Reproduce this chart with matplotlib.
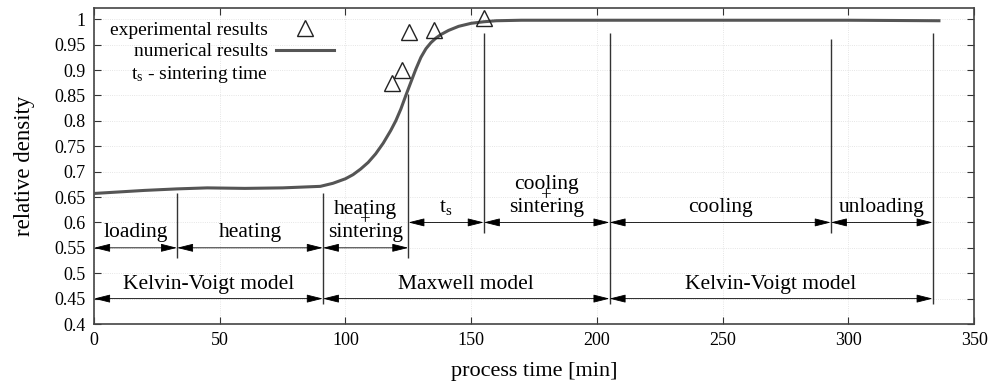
import numpy as np
import matplotlib
matplotlib.use("Agg")
import matplotlib.pyplot as plt
from matplotlib.lines import Line2D

plt.rcParams['font.family'] = ['Liberation Serif', 'DejaVu Serif']
plt.rcParams['mathtext.fontset'] = 'custom'
plt.rcParams['mathtext.rm'] = 'Liberation Serif'
plt.rcParams['mathtext.it'] = 'Liberation Serif:italic'

# numerical results
time_num = [0, 10, 20, 33, 45, 60, 75, 90, 95, 100, 103, 106, 109, 112, 115, 118,
            120, 122, 124, 126, 128, 130, 132, 134, 136, 138, 141, 145, 150, 155,
            160, 170, 200, 250, 300, 336]
dens_num = [0.657, 0.660, 0.663, 0.666, 0.668, 0.667, 0.668, 0.671, 0.677, 0.686,
            0.694, 0.705, 0.718, 0.735, 0.756, 0.781, 0.800, 0.823, 0.850, 0.876,
            0.902, 0.925, 0.942, 0.954, 0.963, 0.970, 0.978, 0.986, 0.992, 0.995,
            0.997, 0.998, 0.998, 0.998, 0.998, 0.997]

# experimental results
time_exp = [118.6, 122.4, 125.4, 135.0, 155.0]
dens_exp = [0.874, 0.900, 0.975, 0.978, 1.003]

# phase boundaries: time, lower and upper end of the marker line
bound_t = [33, 91, 125, 155, 205, 293, 333.5]
bound_lo = [0.53, 0.44, 0.53, 0.58, 0.44, 0.58, 0.44]
bound_hi = [0.658, 0.658, 0.853, 0.973, 0.973, 0.962, 0.973]

# stages (rows of double arrows)
stage_low = [(0, 33, 'loading'), (33, 91, 'heating'), (91, 125, 'heating\n+\nsintering')]
stage_high = [(125, 155, r't$_\mathrm{s}$'), (155, 205, 'cooling\n+\nsintering'),
              (205, 293, 'cooling'), (293, 333.5, 'unloading')]
models = [(0, 91, 'Kelvin-Voigt model'), (91, 205, 'Maxwell model'),
          (205, 333.5, 'Kelvin-Voigt model')]

fig, ax = plt.subplots(figsize=(9.93, 3.83), dpi=100)
fig.subplots_adjust(left=0.0947, right=0.981, top=0.979, bottom=0.154)

ax.plot(time_num, dens_num, color='#555555', lw=2.2, zorder=3)
ax.plot(time_exp, dens_exp, ls='none', marker='^', ms=12, mfc='none',
        mec='#222222', mew=1.0, zorder=4)

ax.vlines(bound_t, bound_lo, bound_hi, color='#333333', lw=1.0)

arrow_kw = dict(arrowstyle='<|-|>,head_length=1.0,head_width=0.25',
                color='black', lw=0.6, shrinkA=0, shrinkB=0, mutation_scale=10)


def stage_row(stages, y, ytext, fs=15.5):
    for x0, x1, name in stages:
        ax.annotate('', xy=(x1, y), xytext=(x0, y), arrowprops=arrow_kw)
        parts = name.split('\n')
        xm = (x0 + x1) / 2
        if len(parts) == 3:
            ax.text(xm, ytext + 0.045, parts[0], ha='center', va='center', fontsize=fs)
            ax.text(xm, ytext + 0.024, parts[1], ha='center', va='center', fontsize=fs - 2)
            ax.text(xm, ytext, parts[2], ha='center', va='center', fontsize=fs)
        else:
            ax.text(xm, ytext, name, ha='center', va='center', fontsize=fs)


stage_row(stage_low, 0.55, 0.581)
stage_row(stage_high, 0.60, 0.629)
stage_row(models, 0.45, 0.478)

ax.set_xlim(0, 350)
ax.set_ylim(0.4, 1.022)
ax.set_xticks(np.arange(0, 351, 50))
ax.set_yticks(np.arange(0.4, 1.001, 0.05))
ax.set_yticklabels(['0.4', '0.45', '0.5', '0.55', '0.6', '0.65', '0.7', '0.75',
                    '0.8', '0.85', '0.9', '0.95', '1'])
ax.tick_params(direction='in', top=True, right=True, length=5, labelsize=13,
               color='#333333', pad=6)
ax.grid(True, color='#dddddd', lw=0.6, ls=':')
for s in ax.spines.values():
    s.set_color('#444444')
    s.set_linewidth(1.2)

ax.set_xlabel('process time [min]', fontsize=16, labelpad=9)
ax.set_ylabel('relative density', fontsize=16.5, labelpad=14)

handles = [Line2D([], [], ls='none', marker='^', ms=12, mfc='none', mec='#222222', mew=1.0),
           Line2D([], [], color='#555555', lw=2.2),
           Line2D([], [], ls='none')]
labels = ['experimental results', 'numerical results', r't$_\mathrm{s}$ - sintering time']
ax.legend(handles, labels, loc='upper left', bbox_to_anchor=(0.005, 0.995),
          markerfirst=False, frameon=False, fontsize=14, handlelength=3.0,
          labelspacing=0.2, handletextpad=0.4, borderaxespad=0.2)

fig.savefig('out.png', dpi=100)
